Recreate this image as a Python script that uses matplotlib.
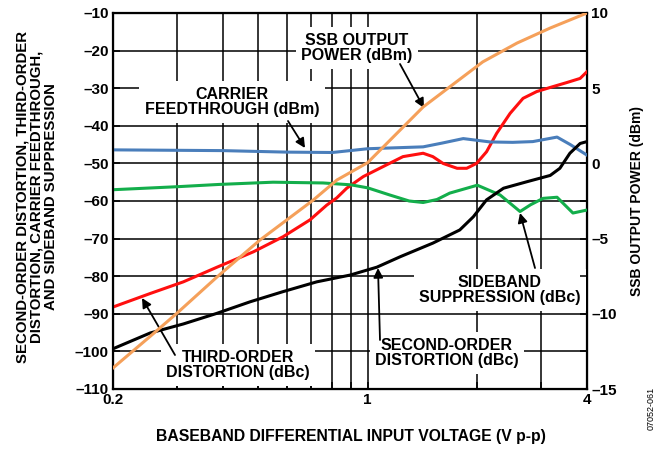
import matplotlib.pyplot as plt
from matplotlib.ticker import FixedLocator, NullFormatter

plt.rcParams['font.family'] = ['Liberation Sans', 'DejaVu Sans']
plt.rcParams['font.weight'] = 'bold'

# SSB output power (dBm, right axis)
ssb_x = [0.2, 0.253, 0.3, 0.386, 0.506, 0.708, 0.824, 1.0, 1.42, 2.07, 2.57, 3.17, 4.0]
ssb_y = [-13.6, -11.5, -9.95, -7.55, -5.1, -2.45, -1.1, 0.05, 3.75, 6.75, 8.0, 9.0, 10.0]

# third-order distortion (dBc)
hd3_x = [0.2, 0.253, 0.312, 0.386, 0.486, 0.586, 0.695, 0.772, 0.822, 0.876, 0.973, 1.10,
         1.25, 1.42, 1.51, 1.61, 1.76, 1.87, 1.99, 2.12, 2.26, 2.46, 2.67, 2.91, 3.17,
         3.52, 3.83, 4.0]
hd3_y = [-88.2, -84.6, -81.5, -77.6, -73.5, -69.5, -65.0, -61.1, -59.2, -56.6, -53.5, -50.9,
         -48.2, -47.3, -48.2, -50.0, -51.3, -51.3, -50.0, -46.9, -42.0, -36.7, -32.7, -30.9,
         -29.8, -28.5, -27.4, -25.6]

# carrier feedthrough (dBm)
cf_x = [0.2, 0.4, 0.6, 0.8, 1.0, 1.42, 1.6, 1.83, 2.17, 2.5, 2.84, 3.31, 3.6, 4.0]
cf_y = [-46.4, -46.6, -47.0, -47.1, -46.1, -45.6, -44.6, -43.4, -44.3, -44.4, -44.2, -43.0,
        -45.0, -47.8]

# sideband suppression (dBc)
sb_x = [0.2, 0.3, 0.39, 0.55, 0.754, 0.9, 1.0, 1.15, 1.3, 1.42, 1.55, 1.68, 2.0, 2.31,
        2.62, 2.8, 3.03, 3.31, 3.66, 4.0]
sb_y = [-57.0, -56.2, -55.6, -55.0, -55.2, -55.7, -56.5, -58.4, -60.0, -60.4, -59.6, -57.9,
        -55.8, -58.4, -62.8, -61.0, -59.3, -59.0, -63.2, -62.4]

# second-order distortion (dBc)
hd2_x = [0.2, 0.253, 0.312, 0.385, 0.476, 0.586, 0.725, 0.895, 1.06, 1.23, 1.51, 1.79, 1.95,
         2.12, 2.36, 2.73, 3.17, 3.37, 3.59, 3.83, 4.0]
hd2_y = [-99.3, -95.1, -92.7, -89.9, -86.8, -84.1, -81.5, -79.7, -77.6, -74.8, -71.2, -67.7,
         -64.2, -59.7, -56.6, -54.9, -53.2, -51.3, -47.3, -44.7, -44.2]

left_ticks = [-10, -20, -30, -40, -50, -60, -70, -80, -90, -100, -110]
right_ticks = [10, 5, 0, -5, -10, -15]
x_grid = [0.3, 0.4, 0.5, 0.6, 0.7, 0.8, 0.9, 1, 2, 3]
x_labels = [0.2, 1, 4]

fig = plt.figure(figsize=(6.62, 4.49), dpi=100)
ax = fig.add_axes([113 / 662, 1 - 389 / 449, 474 / 662, 376 / 449])
ax.set_xscale('log')
ax.set_xlim(0.2, 4)
ax.set_ylim(-110, -10)
ax.xaxis.set_major_locator(FixedLocator(x_labels))
ax.xaxis.set_major_formatter(plt.FixedFormatter(['0.2', '1', '4']))
ax.xaxis.set_minor_locator(FixedLocator(x_grid))
ax.xaxis.set_minor_formatter(NullFormatter())
ax.set_yticks(left_ticks)
ax.set_yticklabels([str(t).replace('-', '\u2013') for t in left_ticks])
ax.grid(True, which='both', color='black', linewidth=1.1, zorder=1)
ax.tick_params(which='both', direction='in', length=5, width=1.1, labelsize=11, pad=3)
for s in ax.spines.values():
    s.set_linewidth(1.6)
ax.set_axisbelow(True)

lw = 2.2
ax.plot(hd3_x, hd3_y, color='#ff0f0f', lw=lw, zorder=4)
ax.plot(cf_x, cf_y, color='#4a7ebb', lw=lw, zorder=4)
ax.plot(sb_x, sb_y, color='#13ae4b', lw=lw, zorder=4)
ax.plot(hd2_x, hd2_y, color='black', lw=lw, zorder=4)

ax2 = ax.twinx()
ax2.set_ylim(-15, 10)
ax2.set_yticks(right_ticks)
ax2.set_yticklabels([str(t).replace('-', '\u2013') for t in right_ticks])
ax2.set_yticks([-12.5, -7.5, -2.5, 2.5, 7.5], minor=True)
ax2.tick_params(which='both', direction='in', length=5, width=1.1, labelsize=11, pad=3)
ax2.plot(ssb_x, ssb_y, color='#f5a05a', lw=lw, zorder=4)
ax2.patch.set_visible(False)

box = dict(boxstyle='square,pad=0.35', facecolor='white', edgecolor='none')
arrow = dict(arrowstyle='-|>', color='black', lw=1.3, mutation_scale=14, shrinkA=0, shrinkB=0)
fs = 11.5

def label(text, xy_px, tip_px, tail_px):
    # positions given in figure pixels (top-left origin)
    def fp(p):
        return (p[0] / 662, 1 - p[1] / 449)
    ax.annotate('', xy=fp(tip_px), xycoords='figure fraction', xytext=fp(tail_px),
                textcoords='figure fraction', arrowprops=arrow, zorder=6)
    ax.text(*fp(xy_px), text, transform=fig.transFigure, ha='center', va='center',
            fontsize=fs, fontweight='bold', linespacing=1.0, bbox=box, zorder=5)

label('SSB OUTPUT\nPOWER (dBm)', (357, 48), (424, 108), (400, 64))
label('CARRIER\nFEEDTHROUGH (dBm)', (232, 102), (305, 148), (288, 121))
label('THIRD-ORDER\nDISTORTION (dBc)', (238, 365), (142, 298), (175, 355))
label('SECOND-ORDER\nDISTORTION (dBc)', (447, 353), (378, 268), (380, 340))
label('SIDEBAND\nSUPPRESSION (dBc)', (500, 290), (520, 213), (535, 268))

fig.text(351 / 662, 1 - 437 / 449, 'BASEBAND DIFFERENTIAL INPUT VOLTAGE (V p-p)',
         ha='center', va='center', fontsize=11.3, fontweight='bold')
fig.text(37 / 662, 1 - 197 / 449,
         'SECOND-ORDER DISTORTION, THIRD-ORDER\nDISTORTION, CARRIER FEEDTHROUGH,\nAND SIDEBAND SUPPRESSION',
         ha='center', va='center', rotation=90, fontsize=10.8, fontweight='bold', linespacing=1.0)
fig.text(637 / 662, 1 - 201 / 449, 'SSB OUTPUT POWER (dBm)', ha='center', va='center',
         rotation=90, fontsize=10, fontweight='bold')
fig.text(651 / 662, 1 - 408 / 449, '07052-061', ha='center', va='center', rotation=90,
         fontsize=6.5, fontweight='normal')

fig.savefig('out.png', dpi=100)
